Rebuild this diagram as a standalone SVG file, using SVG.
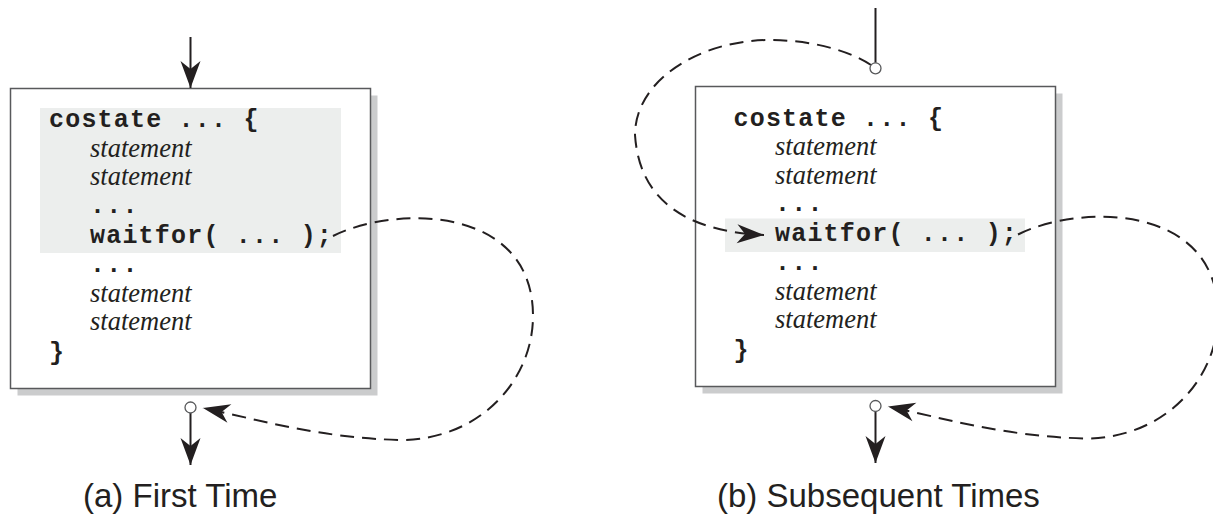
<svg xmlns="http://www.w3.org/2000/svg" width="1213" height="514" viewBox="0 0 1213 514">
<defs>
<style>
.bg{fill:#fff}
.shadow{fill:#cbcccd}
.box{fill:#fff;stroke:#58595b;stroke-width:1.5}
.hl{fill:#eceeed}
.code{font-family:"Liberation Mono","Courier New",monospace;font-weight:bold;font-size:25px;letter-spacing:1.2px;fill:#231f20}
.stmt{font-family:"Liberation Serif","Times New Roman",serif;font-style:italic;font-size:26.5px;fill:#231f20}
.cap{font-family:"Liberation Sans",Arial,sans-serif;font-size:33px;fill:#231f20}
.solid{fill:none;stroke:#231f20;stroke-width:2}
.dash{fill:none;stroke:#231f20;stroke-width:2;stroke-dasharray:14 8}
.port{fill:#fff;stroke:#58595b;stroke-width:1.3}
.head{fill:#231f20}
</style>
<marker id="solidHead" markerUnits="userSpaceOnUse" markerWidth="30" markerHeight="24" viewBox="-28 -12 30 24" refX="0" refY="0" orient="auto">
<path class="head" d="M0,0 L-27,-10 L-19,0 L-27,10 Z"/>
</marker>
<marker id="dashHead" markerUnits="userSpaceOnUse" markerWidth="30" markerHeight="22" viewBox="-28 -11 30 22" refX="0" refY="0" orient="auto">
<path class="head" d="M0,0 L-27,-9.5 L-19,0 L-27,9.5 Z"/>
</marker>
</defs>
<rect class="bg" x="0" y="0" width="1213" height="514"/>

<g id="panel-a">
<rect class="shadow" x="17.5" y="95.5" width="360" height="300"/>
<rect class="box" x="10.5" y="88.5" width="360" height="300"/>
<rect class="hl" x="40" y="108" width="301" height="145"/>
<text class="code" x="49" y="127">costate ... {</text>
<text class="stmt" x="90" y="156.5">statement</text>
<text class="stmt" x="90" y="185">statement</text>
<text class="code" x="90" y="213">...</text>
<text class="code" x="90" y="243">waitfor( ... );</text>
<text class="code" x="90" y="272">...</text>
<text class="stmt" x="90" y="301.5">statement</text>
<text class="stmt" x="90" y="330">statement</text>
<text class="code" x="49" y="360">}</text>
</g>

<g id="panel-b">
<rect class="shadow" x="702.5" y="93.5" width="360" height="300"/>
<rect class="box" x="695.5" y="86.5" width="360" height="300"/>
<rect class="hl" x="725" y="218.5" width="300" height="33.5"/>
<text class="code" x="733.5" y="125.5">costate ... {</text>
<text class="stmt" x="775" y="155">statement</text>
<text class="stmt" x="775" y="183.5">statement</text>
<text class="code" x="775" y="211">...</text>
<text class="code" x="775" y="240.5">waitfor( ... );</text>
<text class="code" x="775" y="270">...</text>
<text class="stmt" x="775" y="299.5">statement</text>
<text class="stmt" x="775" y="328">statement</text>
<text class="code" x="733.5" y="358">}</text>
</g>

<g id="connectors">
<path class="solid" d="M190.5,37 V88" marker-end="url(#solidHead)"/>
<path class="solid" d="M190.5,413 V465" marker-end="url(#solidHead)"/>
<path class="dash" d="M333,236 C395,205 533,205 533,316 C533,380 480,440 400,440 C320,438 260,420 203,408" marker-end="url(#dashHead)"/>
<circle class="port" cx="190.5" cy="407.5" r="5.5"/>

<path class="solid" d="M875.5,8 V62.8"/>
<path class="dash" d="M871,65 C845,48 805,40 770,40 C700,40 635,80 635,135 C640,210 700,232 764,235" marker-end="url(#dashHead)"/>
<circle class="port" cx="875.5" cy="68.3" r="5.5"/>
<path class="dash" d="M1018,234.5 C1080,203.5 1218,203.5 1218,314.5 C1218,378.5 1165,438.5 1085,438.5 C1005,436.5 945,418.5 888,406.5" marker-end="url(#dashHead)"/>
<path class="solid" d="M875.5,411.5 V463" marker-end="url(#solidHead)"/>
<circle class="port" cx="875.5" cy="406" r="5.5"/>
</g>

<g id="captions">
<text class="cap" x="83" y="507">(a) First Time</text>
<text class="cap" x="717" y="507">(b) Subsequent Times</text>
</g>
</svg>
